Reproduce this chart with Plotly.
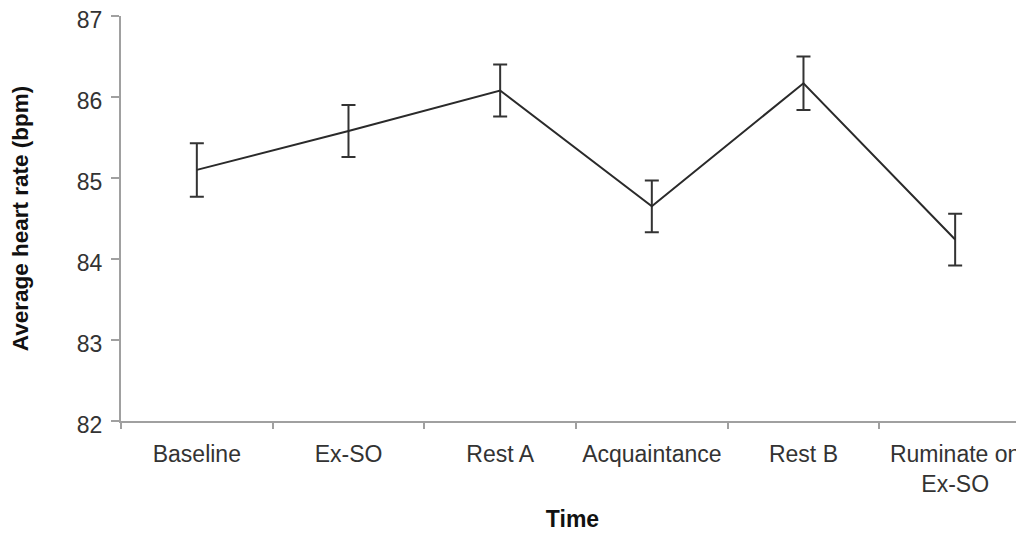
import plotly.graph_objects as go

categories = ["Baseline", "Ex-SO", "Rest A", "Acquaintance", "Rest B", "Ruminate on<br>Ex-SO"]
mean_hr = [85.10, 85.58, 86.08, 84.65, 86.17, 84.24]
err_hr = [0.33, 0.32, 0.32, 0.32, 0.33, 0.32]
y_ticks = [82, 83, 84, 85, 86, 87]

fig = go.Figure()
fig.add_trace(go.Scatter(
    x=categories, y=mean_hr, mode="lines",
    line=dict(color="#2a2a2a", width=2),
    error_y=dict(type="data", array=err_hr, visible=True,
                 color="#333333", thickness=2, width=7),
    showlegend=False,
))

font_family = "Liberation Sans, Arial, sans-serif"
fig.update_layout(
    width=1016, height=527,
    margin=dict(l=113, r=0, t=8, b=114),
    plot_bgcolor="white", paper_bgcolor="white",
    font=dict(family=font_family, size=23, color="#333333"),
    xaxis=dict(
        type="category", range=[-0.5, 5.454], automargin=False,
        showline=True, linecolor="#a0a0a0", linewidth=2,
        ticks="outside", tickson="boundaries", ticklen=6, tickcolor="#a0a0a0", tickwidth=2,
        showgrid=False, zeroline=False,
        tickfont=dict(size=23, color="#333333"),
        ticklabelstandoff=11, ticklabeloverflow="allow",
        title=dict(text="<b>Time</b>", font=dict(size=23, color="#111111"), standoff=15),
    ),
    yaxis=dict(
        range=[82, 87], tickvals=y_ticks, automargin=False,
        showline=True, linecolor="#a0a0a0", linewidth=2,
        ticks="outside", ticklen=8, tickcolor="#a0a0a0", tickwidth=2,
        showgrid=False, zeroline=False,
        tickfont=dict(size=23, color="#333333"),
        ticklabelstandoff=4, ticklabelshift=4, ticklabeloverflow="allow",
        title=dict(text="<b>Average heart rate (bpm)</b>", font=dict(size=22.5, color="#111111"), standoff=42),
    ),
)

fig.write_html("out.html")
